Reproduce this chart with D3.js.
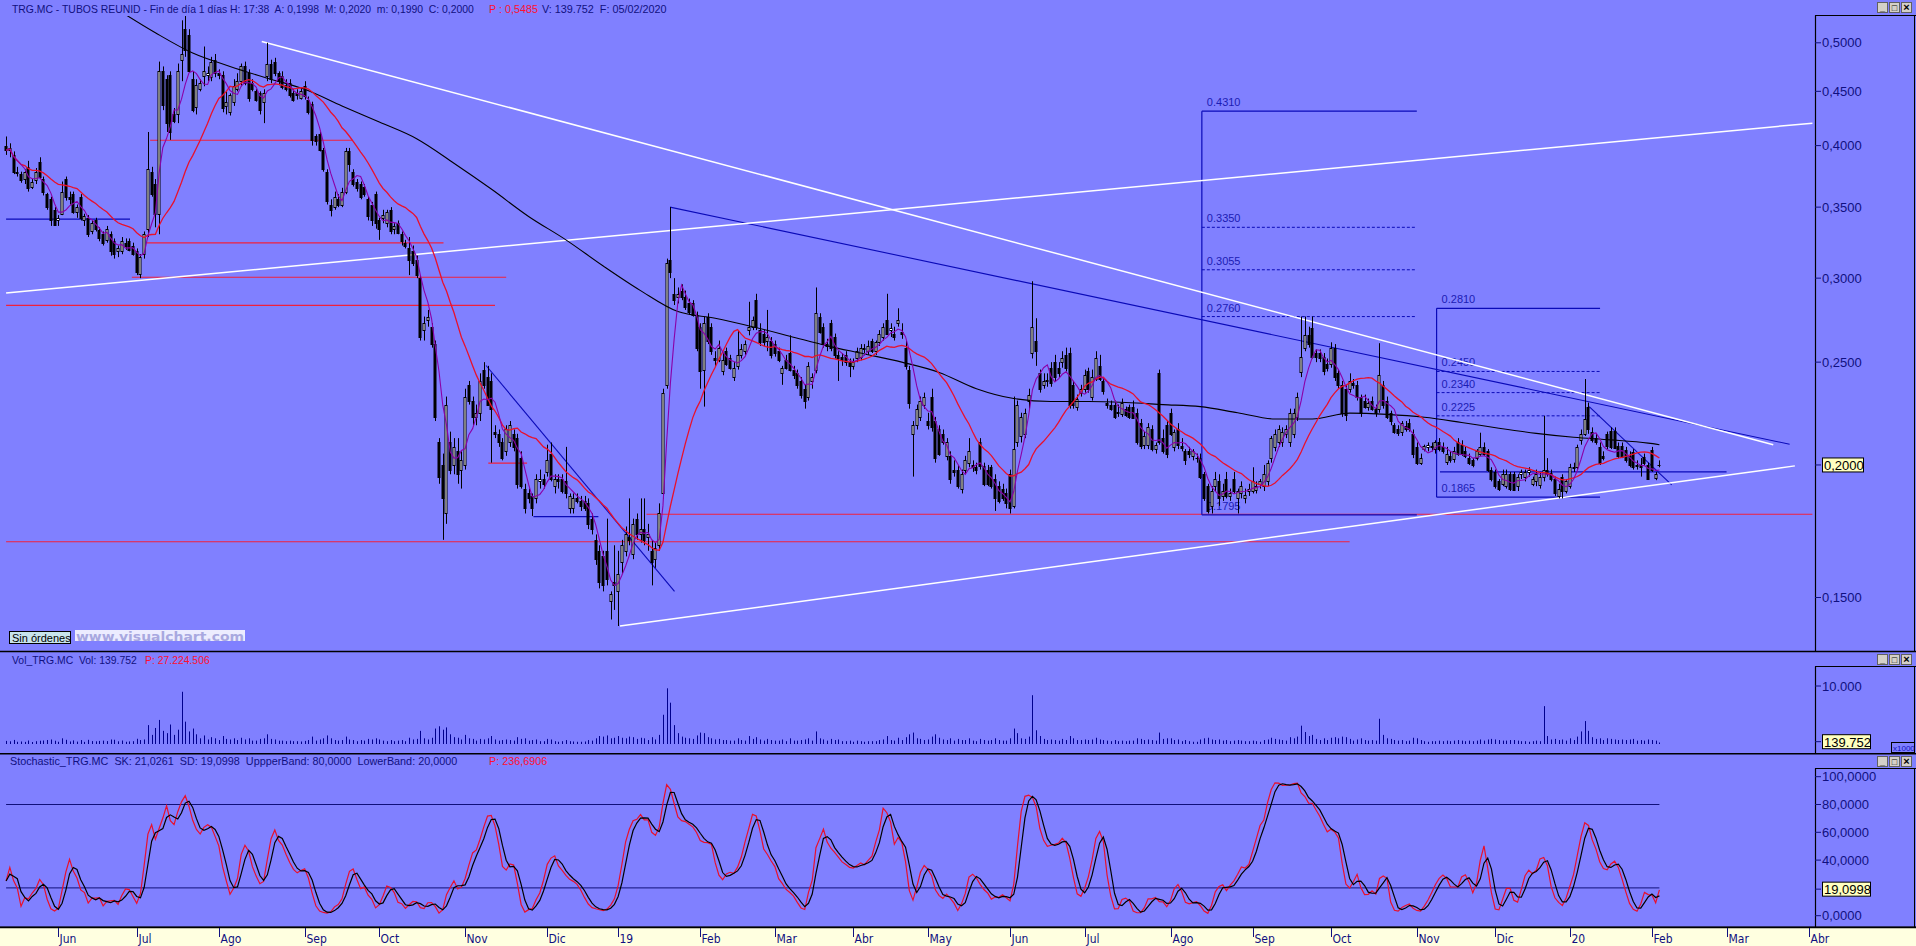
<!DOCTYPE html>
<html><head><meta charset="utf-8">
<script src="https://cdn.jsdelivr.net/npm/d3@7"></script>
<style>
html,body{margin:0;padding:0;background:#8080ff;overflow:hidden}
svg{display:block}
</style></head><body>
<svg id="c" width="1916" height="946"></svg>
<script>
// ---------------- DATA (prices in EUR, volume in thousands) ----------------
const opens = [
.400,.396,.392,.378,.376,.372,.382,.366,.371,.386,
.372,.360,.356,.348,.340,.345,.372,.358,.360,.346,
.358,.340,.342,.332,.340,.333,.330,.326,.330,.325,
.318,.318,.324,.325,.322,.318,.303,.316,.334,.378,
.368,.345,.470,.462,.466,.428,.428,.482,.515,.508,
.462,.435,.452,.465,.466,.464,.482,.468,.466,.436,
.430,.440,.452,.460,.475,.468,.458,.450,.448,.440,
.465,.478,.480,.468,.465,.456,.458,.448,.448,.444,
.455,.442,.438,.408,.410,.396,.378,.352,.350,.356,
.352,.362,.395,.378,.370,.368,.366,.356,.352,.360,
.340,.342,.338,.348,.334,.338,.330,.324,.320,.318,
.312,.300,.268,.274,.270,.260,.210,.200,.180,.210,
.200,.206,.198,.200,.238,.230,.222,.224,.246,.242,
.240,.215,.214,.210,.206,.210,.214,.212,.203,.190,
.188,.187,.186,.193,.194,.197,.205,.191,.194,.194,
.193,.182,.182,.186,.185,.185,.184,.178,.170,.166,
.164,.166,.149,.155,.152,.162,.166,.171,.165,.178,
.172,.174,.171,.166,.163,.168,.188,.238,.312,.290,
.288,.292,.288,.284,.284,.277,.270,.246,.276,.270,
.252,.251,.245,.256,.252,.242,.248,.254,.256,.268,
.270,.286,.268,.266,.262,.262,.260,.256,.244,.251,
.255,.246,.244,.240,.236,.232,.240,.246,.276,.270,
.260,.272,.264,.254,.253,.254,.250,.248,.252,.253,
.258,.256,.262,.256,.261,.264,.274,.268,.266,.272,
.267,.258,.246,.214,.218,.222,.228,.220,.232,.220,
.216,.214,.204,.204,.198,.198,.190,.198,.201,.200,
.199,.210,.1995,.198,.199,.194,.191,.190,.188,.196,
.183,.210,.213,.214,.230,.255,.262,.244,.238,.240,
.247,.250,.247,.250,.254,.255,.238,.227,.234,.236,
.245,.232,.241,.248,.240,.229,.228,.228,.224,.2235,
.226,.227,.227,.224,.219,.209,.209,.216,.207,.244,
.212,.218,.224,.208,.216,.2085,.206,.206,.204,.203,
.203,.196,.191,.183,.191,.193,.187,.194,.187,.194,
.186,.188,.186,.189,.189,.1895,.192,.191,.193,.203,
.208,.210,.210,.214,.210,.214,.222,.2445,.258,.265,
.269,.255,.255,.253,.249,.249,.258,.244,.238,.236,
.236,.239,.238,.232,.230,.227,.230,.226,.226,.238,
.230,.224,.218,.216,.215,.2175,.219,.214,.208,.201,
.207,.208,.208,.207,.210,.208,.2015,.204,.2025,.210,
.209,.206,.203,.202,.203,.205,.208,.206,.198,.197,
.193,.192,.191,.196,.196,.191,.196,.195,.197,.192,
.193,.1915,.195,.198,.1965,.194,.187,.195,.189,.191,
.199,.199,.211,.214,.227,.215,.212,.208,.204,.214,
.2155,.2155,.2085,.2085,.2065,.204,.2055,.200,.200,.2035,
.200,.2065,.1945,.1998];
const highs = [
.408,.402,.395,.382,.378,.380,.387,.372,.381,.390,
.374,.361,.358,.350,.344,.370,.374,.362,.362,.352,
.360,.345,.344,.340,.342,.335,.332,.336,.332,.327,
.322,.328,.327,.327,.324,.320,.316,.332,.412,.382,
.372,.480,.475,.466,.470,.434,.478,.525,.537,.515,
.470,.462,.462,.496,.475,.485,.488,.472,.470,.450,
.448,.462,.468,.478,.480,.472,.462,.452,.450,.452,
.500,.482,.484,.470,.470,.462,.462,.452,.452,.454,
.460,.445,.440,.410,.412,.398,.380,.356,.362,.360,
.365,.398,.398,.380,.372,.370,.368,.358,.354,.362,
.342,.348,.348,.350,.338,.340,.332,.326,.328,.322,
.315,.302,.276,.280,.272,.262,.212,.205,.232,.215,
.212,.212,.206,.236,.240,.232,.228,.244,.250,.248,
.244,.218,.216,.212,.218,.220,.216,.214,.206,.192,
.190,.188,.196,.198,.196,.209,.210,.196,.196,.196,
.208,.188,.188,.188,.187,.187,.186,.180,.172,.168,
.166,.178,.152,.168,.166,.170,.175,.186,.178,.180,
.186,.186,.176,.170,.169,.184,.236,.313,.350,.300,
.294,.296,.292,.287,.286,.279,.272,.276,.278,.272,
.256,.262,.255,.258,.254,.250,.268,.260,.262,.285,
.276,.290,.272,.268,.280,.264,.262,.258,.248,.254,
.265,.248,.246,.242,.238,.250,.244,.294,.278,.272,
.263,.274,.266,.256,.255,.256,.252,.252,.258,.260,
.260,.262,.263,.262,.268,.272,.290,.272,.270,.281,
.272,.262,.248,.220,.228,.232,.234,.224,.236,.222,
.218,.216,.212,.206,.202,.200,.198,.204,.212,.202,
.201,.212,.201,.200,.200,.196,.193,.192,.190,.198,
.232,.230,.224,.226,.236,.298,.275,.246,.244,.244,
.250,.254,.250,.256,.258,.258,.240,.233,.238,.246,
.247,.246,.256,.254,.242,.231,.230,.230,.228,.231,
.227,.228,.230,.226,.221,.215,.219,.218,.210,.246,
.216,.220,.226,.216,.219,.212,.207,.208,.207,.205,
.205,.197,.192,.191,.197,.196,.192,.197,.190,.197,
.190,.193,.190,.192,.199,.193,.194,.200,.202,.213,
.216,.218,.217,.218,.226,.226,.234,.276,.276,.270,
.276,.257,.257,.255,.252,.261,.260,.246,.240,.238,
.244,.241,.240,.233,.233,.231,.232,.228,.2605,.240,
.232,.225,.219,.218,.220,.220,.221,.216,.210,.205,
.209,.210,.210,.211,.212,.210,.208,.206,.208,.212,
.211,.208,.205,.203,.207,.2145,.210,.207,.199,.198,
.194,.198,.198,.197,.197,.196,.198,.198,.199,.195,
.198,.197,.2225,.203,.198,.195,.192,.196,.194,.2005,
.201,.209,.216,.241,.229,.217,.214,.210,.206,.215,
.217,.217,.210,.210,.208,.206,.207,.202,.203,.205,
.201,.208,.197,.202];
const lows = [
.392,.390,.376,.374,.369,.368,.362,.364,.368,.372,
.359,.348,.336,.336,.336,.344,.355,.352,.345,.342,
.340,.336,.328,.330,.332,.325,.322,.324,.315,.313,
.314,.316,.319,.318,.315,.302,.300,.313,.328,.358,
.335,.330,.432,.412,.405,.420,.420,.460,.485,.470,
.430,.428,.450,.455,.460,.460,.464,.462,.430,.428,
.427,.436,.450,.455,.456,.440,.450,.440,.428,.420,
.460,.458,.465,.456,.452,.450,.444,.440,.442,.442,
.442,.428,.400,.400,.395,.378,.352,.343,.348,.350,
.350,.360,.378,.366,.362,.356,.358,.340,.336,.334,
.326,.338,.335,.330,.330,.330,.322,.320,.302,.308,
.300,.262,.262,.270,.258,.220,.192,.170,.176,.196,
.196,.192,.190,.198,.228,.218,.218,.220,.236,.228,
.201,.212,.208,.202,.204,.208,.206,.190,.190,.180,
.184,.179,.184,.190,.190,.195,.193,.188,.190,.188,
.186,.180,.180,.184,.181,.181,.174,.172,.161,.153,
.152,.154,.143,.146,.141,.158,.164,.168,.163,.170,
.169,.168,.166,.154,.160,.166,.186,.236,.300,.283,
.284,.286,.280,.277,.276,.256,.236,.227,.260,.254,
.248,.250,.243,.248,.246,.240,.246,.252,.254,.265,
.268,.268,.259,.259,.256,.252,.253,.250,.238,.246,
.245,.241,.236,.231,.226,.230,.236,.244,.266,.258,
.256,.256,.252,.240,.248,.248,.242,.246,.250,.251,
.255,.254,.255,.254,.259,.262,.266,.264,.262,.270,
.263,.246,.226,.195,.216,.220,.226,.216,.215,.201,
.204,.209,.202,.192,.195,.190,.188,.196,.199,.197,
.196,.198,.191,.191,.190,.181,.184,.185,.182,.180,
.182,.208,.210,.212,.226,.252,.248,.234,.236,.237,
.237,.240,.242,.247,.245,.226,.226,.225,.232,.234,
.234,.230,.240,.240,.233,.226,.225,.221,.222,.222,
.222,.221,.221,.209,.207,.207,.207,.206,.205,.209,
.205,.203,.213,.206,.207,.206,.200,.203,.202,.201,
.194,.185,.180,.180,.189,.183,.185,.186,.185,.188,
.180,.186,.184,.187,.188,.188,.190,.189,.191,.201,
.206,.208,.208,.212,.208,.212,.220,.242,.256,.258,
.252,.250,.250,.243,.245,.247,.240,.236,.222,.220,
.234,.236,.230,.222,.226,.225,.225,.222,.224,.226,
.221,.218,.214,.213,.213,.215,.215,.203,.200,.200,
.206,.206,.206,.205,.206,.205,.200,.201,.201,.204,
.204,.203,.200,.199,.202,.204,.204,.197,.193,.190,
.189,.191,.190,.189,.189,.189,.194,.193,.195,.191,
.191,.190,.193,.195,.193,.187,.186,.186,.188,.190,
.197,.198,.209,.213,.214,.210,.209,.200,.202,.207,
.207,.207,.203,.203,.201,.199,.198,.198,.195,.200,
.194,.197,.1935,.199];
const closes = [
.396,.398,.378,.377,.371,.378,.365,.370,.378,.374,
.362,.350,.340,.337,.342,.362,.358,.356,.346,.350,
.342,.343,.330,.338,.334,.327,.324,.334,.318,.316,
.320,.325,.322,.319,.316,.304,.314,.330,.380,.360,
.345,.470,.437,.420,.412,.422,.470,.488,.492,.470,
.432,.456,.458,.470,.468,.480,.468,.466,.434,.440,
.446,.455,.460,.475,.458,.444,.452,.442,.432,.448,
.478,.462,.468,.460,.454,.452,.446,.442,.446,.450,
.445,.430,.405,.404,.396,.380,.355,.348,.358,.352,
.362,.395,.384,.368,.365,.358,.360,.343,.340,.338,
.334,.344,.346,.332,.336,.331,.325,.322,.312,.310,
.302,.264,.272,.276,.260,.222,.195,.186,.228,.198,
.208,.196,.202,.232,.230,.222,.224,.240,.238,.228,
.226,.214,.210,.203,.216,.218,.208,.192,.191,.182,
.186,.182,.194,.194,.192,.202,.194,.194,.193,.189,
.188,.187,.186,.185,.183,.182,.176,.174,.163,.155,
.154,.156,.151,.154,.158,.168,.172,.170,.176,.172,
.174,.170,.172,.162,.167,.180,.234,.310,.304,.286,
.290,.288,.282,.279,.277,.258,.245,.272,.262,.256,
.251,.258,.251,.249,.247,.247,.254,.257,.260,.270,
.274,.270,.261,.261,.264,.254,.255,.251,.247,.247,
.246,.243,.238,.233,.230,.248,.242,.278,.267,.260,
.259,.258,.254,.252,.251,.250,.248,.250,.256,.258,
.257,.259,.256,.261,.266,.270,.266,.269,.264,.274,
.266,.248,.229,.218,.226,.230,.232,.218,.217,.203,
.205,.210,.210,.194,.197,.191,.196,.202,.206,.199,
.198,.1995,.192,.192,.191,.186,.185,.186,.184,.182,
.207,.228,.222,.224,.233,.270,.256,.236,.240,.2405,
.239,.242,.244,.252,.247,.228,.228,.231,.236,.243,
.236,.242,.252,.241,.235,.228,.226,.222,.2245,.229,
.223,.222,.2215,.210,.2085,.213,.217,.207,.209,.210,
.206,.205,.214,.215,.209,.2075,.202,.205,.206,.203,
.195,.186,.181,.189,.194,.186,.189,.187,.188,.189,
.189,.191,.1875,.190,.193,.191,.193,.196,.201,.212,
.214,.216,.215,.216,.224,.224,.232,.253,.265,.260,
.253,.253,.252,.245,.247,.258,.242,.238,.224,.223,
.240,.238,.232,.224,.227,.229,.226,.224,.243,.228,
.222,.220,.215,.2145,.219,.216,.216,.205,.201,.203,
.2085,.209,.2085,.210,.207,.206,.205,.202,.206,.205,
.205,.204,.201,.200,.206,.208,.205,.198,.194,.191,
.190,.196,.196,.190,.1895,.195,.197,.197,.198,.194,
.196,.195,.198,.196,.194,.188,.190,.189,.193,.199,
.1985,.208,.214,.221,.216,.211,.210,.201,.203,.2085,
.208,.2075,.204,.2035,.202,.200,.199,.1995,.199,.201,
.194,.198,.196,.200];
const volumes = [
450,380,620,300,350,280,520,260,400,480,
520,610,700,480,300,900,640,350,540,330,
600,280,640,420,380,450,500,420,700,650,
380,520,300,360,400,820,600,700,3200,1500,
2700,4100,2200,1800,3300,1500,2400,9000,3800,2100,
2600,1600,900,1400,700,1100,900,600,1300,800,
700,900,600,1000,700,900,500,500,800,900,
1600,800,700,500,500,400,500,400,400,350,
450,600,1200,500,700,900,1400,900,600,500,
600,1200,700,600,400,600,500,800,700,900,
700,500,400,600,400,500,600,400,1000,700,
800,2200,900,700,1000,2600,3000,2400,2800,1600,
1100,1000,700,1500,900,800,500,800,700,900,
1300,700,500,600,700,600,500,1100,800,900,
500,600,700,400,400,800,700,400,300,400,
600,400,350,300,300,350,600,500,900,1300,
1200,1400,900,1000,1300,1000,900,1200,1100,800,
1000,900,600,1100,700,1500,5000,9600,7100,3200,
1800,1200,1000,900,800,1400,1900,1800,1100,900,
700,800,600,600,500,500,900,600,500,1300,
800,1100,700,500,800,600,500,500,700,400,
900,500,500,600,700,900,500,2100,900,700,
500,800,600,700,400,400,500,300,500,400,
300,400,400,400,600,700,1300,600,500,1000,
600,1100,1600,1900,900,800,600,700,1200,1600,
1000,700,600,900,500,800,600,600,900,500,
400,800,600,500,600,900,600,500,500,900,
2600,1800,900,800,1200,8400,2300,1300,800,600,
700,600,500,800,600,1300,900,600,600,700,
600,700,1000,700,600,500,400,600,400,500,
400,500,500,900,800,600,700,600,500,1900,
800,900,900,600,700,400,600,400,300,300,
700,900,1000,700,600,700,500,600,400,500,
600,500,400,400,500,400,300,600,700,1000,
800,700,600,500,1100,900,1200,3100,2000,1300,
1500,800,600,900,600,1000,1100,900,1200,1100,
800,500,700,900,600,500,600,500,4300,1500,
900,800,600,500,600,400,500,1000,900,600,
400,300,400,400,500,400,500,400,500,600,
500,400,500,400,500,700,500,700,800,700,
600,500,500,600,600,500,400,400,300,400,
500,400,6500,1300,700,800,600,700,500,900,
600,1200,2100,3900,2200,1100,800,900,600,900,
800,700,600,700,600,700,800,500,600,500,
700,600,500,140];
// long-term moving average (black), read every 10th bar starting at bar 30
const longMA = [.537,.511,.489,.475,.463,.452,.436,.421,.406,.385,
  .364,.343,.326,.308,.292,.279,.275,.270,.2645,.259,
  .2545,.250,.2445,.236,.231,.2295,.2295,.229,.228,.227,
  .224,.221,.221,.2238,.2232,.2218,.2193,.2166,.2142,.2124,
  .2112,.2097];
const longMAStart = 30, longMAStep = 10, longMALast = 0.209;
const monthNames = ["Ene","Feb","Mar","Abr","May","Jun","Jul","Ago","Sep","Oct","Nov","Dic"];
const priceTicks = [0.15,0.25,0.30,0.35,0.40,0.45,0.50];
const stochTicks = [0,40,60,80,100];
const volTicks = [10000];
const holidays = ["2018-12-25","2018-12-26","2019-01-01","2019-04-19","2019-04-22","2019-05-01","2019-12-25","2019-12-26","2020-01-01"];
// drawn objects (bar index, price)
const whiteLines = [
  {i1:0, p1:0.2905, i2:484, p2:0.420},
  {i1:68.5, p1:0.5015, i2:473.5, p2:0.209},
  {i1:164.5, p1:0.141, i2:479.3, p2:0.1996}];
const blueLines = [
  {i1:177.9, p1:0.350, i2:477.9, p2:0.2092},
  {i1:128.6, p1:0.2482, i2:179.1, p2:0.152},
  {i1:424.2, p1:0.227, i2:446.3, p2:0.1915},
  {i1:0, p1:0.341, i2:33.2, p2:0.341},
  {i1:141.3, p1:0.1788, i2:158.7, p2:0.1788},
  {i1:384.2, p1:0.197, i2:461, p2:0.197}];
const redLevels = [
  {i1:38.6, i2:92.9, p:0.4047},
  {i1:37.7, i2:117.2, p:0.3239},
  {i1:33.7, i2:134, p:0.3006},
  {i1:0, i2:131, p:0.2828},
  {i1:129.2, i2:139.6, p:0.2008},
  {i1:0, i2:360, p:0.1693},
  {i1:171.6, i2:484, p:0.1797}];
const fibBoxes = [
  {i1:320.4, i2:378, hi:0.4310, lo:0.1795, levels:[0.3350,0.3055,0.2760]},
  {i1:383.3, i2:427.1, hi:0.2810, lo:0.1865, levels:[0.2450,0.2340,0.2225]}];
const lastPrice = 0.2000, lastVolK = 139.752, lastSD = 19.0998;

// ---------------- LAYOUT ----------------
const W=1916, H=946, AX=1815;
const BG="#8080ff", NAVY="#101080";
const svg=d3.select("#c");
const x=d3.scaleLinear().domain([0,443]).range([6.1,1659.4]);
const y=d3.scaleLog().domain([0.15,0.5]).range([597.5,42.8]);
const yv=d3.scaleLinear().domain([0,10000]).range([743.5,686]);
const ys=d3.scaleLinear().domain([0,100]).range([915.7,776.7]);
const NARROW="'Liberation Sans Narrow','Arial Narrow','DejaVu Sans Condensed',sans-serif";
const SANS="'Liberation Sans',Arial,sans-serif";

svg.append("rect").attr("width",W).attr("height",H).attr("fill",BG);

// trading dates
const hol=new Set(holidays);
const dates=[]; {let d=new Date(Date.UTC(2018,4,14)); while(dates.length<500){const wd=d.getUTCDay(); const s=d.toISOString().slice(0,10); if(wd>0&&wd<6&&!hol.has(s)) dates.push(new Date(d)); d.setUTCDate(d.getUTCDate()+1);}}

const defs=svg.append("defs");
defs.append("clipPath").attr("id","cp").append("rect").attr("x",0).attr("y",16).attr("width",AX).attr("height",651-16);
const gP=svg.append("g").attr("clip-path","url(#cp)");

// red levels
gP.selectAll(".rl").data(redLevels).join("line")
  .attr("x1",d=>x(d.i1)).attr("x2",d=>x(d.i2)).attr("y1",d=>y(d.p)).attr("y2",d=>y(d.p))
  .attr("stroke","#f0203c").attr("stroke-width",1.1);
// fib boxes
fibBoxes.forEach(b=>{
  const g=gP.append("g");
  const xa=x(b.i1), xb=x(b.i2);
  g.append("line").attr("x1",xa).attr("x2",xa).attr("y1",y(b.hi)).attr("y2",y(b.lo)).attr("stroke","#0a0ab8").attr("stroke-width",1.2);
  [b.hi,b.lo].forEach(v=>g.append("line").attr("x1",xa).attr("x2",xb).attr("y1",y(v)).attr("y2",y(v)).attr("stroke","#0a0ab8").attr("stroke-width",1.2));
  b.levels.forEach(v=>g.append("line").attr("x1",xa).attr("x2",xb).attr("y1",y(v)).attr("y2",y(v)).attr("stroke","#0a0ab8").attr("stroke-width",1).attr("stroke-dasharray","3,2"));
  [b.hi,...b.levels,b.lo].forEach(v=>g.append("text").attr("x",xa+5).attr("y",y(v)-5).attr("font-family",SANS).attr("font-size",11).attr("fill","#1c1cb4").text(v.toFixed(4)));
});
// blue lines
gP.selectAll(".bl").data(blueLines).join("line")
  .attr("x1",d=>x(d.i1)).attr("x2",d=>x(d.i2)).attr("y1",d=>y(d.p1)).attr("y2",d=>y(d.p2))
  .attr("stroke","#0a0ab8").attr("stroke-width",1.1);
// white lines
gP.selectAll(".wl").data(whiteLines).join("line")
  .attr("x1",d=>x(d.i1)).attr("x2",d=>x(d.i2)).attr("y1",d=>y(d.p1)).attr("y2",d=>y(d.p2))
  .attr("stroke","#ffffff").attr("stroke-width",1.5);

// candles
const idx=d3.range(closes.length);
const cg=gP.append("g");
idx.forEach(i=>{
  const o=opens[i],c=closes[i],h=Math.max(highs[i],o,c),l=Math.min(lows[i],o,c);
  const cx=Math.round(x(i))+0.5;
  cg.append("line").attr("x1",cx).attr("x2",cx).attr("y1",y(h)).attr("y2",y(l)).attr("stroke","#000").attr("stroke-width",1);
  const yt=Math.round(y(Math.max(o,c)))+0.5, yb=Math.round(y(Math.min(o,c)))+0.5;
  cg.append("rect").attr("x",cx-1.5).attr("y",yt).attr("width",2).attr("height",Math.max(0.01,yb-yt))
    .attr("fill",c>=o?"#fff":"#000").attr("stroke","#000").attr("stroke-width",1);
});

// moving averages
const sma=(arr,n)=>arr.map((_,i)=>d3.mean(arr.slice(Math.max(0,i-n+1),i+1)));
const ma20=sma(closes,20), ma5=sma(closes,5);
const lineP=d3.line().x(d=>x(d[0])).y(d=>y(d[1]));
const longPts=longMA.map((v,k)=>[longMAStart+k*longMAStep,v]); longPts.push([closes.length-1,longMALast]);
gP.append("path").attr("d",d3.line().x(d=>x(d[0])).y(d=>y(d[1])).curve(d3.curveMonotoneX)(longPts)).attr("fill","none").attr("stroke","#000").attr("stroke-width",1.1);
gP.append("path").attr("d",lineP(idx.map(i=>[i,ma20[i]]))).attr("fill","none").attr("stroke","#e8102c").attr("stroke-width",1.3);
gP.append("path").attr("d",lineP(idx.map(i=>[i,ma5[i]]))).attr("fill","none").attr("stroke","#8a00a8").attr("stroke-width",1.1);

// volume
const gV=svg.append("g");
idx.forEach(i=>{const cx=Math.round(x(i))+0.5; gV.append("line").attr("x1",cx).attr("x2",cx).attr("y1",yv(0)+0.5).attr("y2",Math.min(yv(volumes[i]),yv(0)-1)).attr("stroke","#00008c").attr("stroke-width",1);});

// stochastic
const Kp=14;
const fastK=closes.map((c,i)=>{const a=Math.max(0,i-Kp+1);const hh=d3.max(highs.slice(a,i+1)),ll=d3.min(lows.slice(a,i+1));return hh>ll?100*(c-ll)/(hh-ll):50;});
const SK=sma(fastK,3), SD=sma(SK,3);
const gS=svg.append("g");
[80,20].forEach(v=>gS.append("line").attr("x1",x(0)).attr("x2",x(443)).attr("y1",ys(v)).attr("y2",ys(v)).attr("stroke","#10107a").attr("stroke-width",1));
const lineS=d3.line().x(d=>x(d[0])).y(d=>ys(d[1]));
gS.append("path").attr("d",lineS(idx.map(i=>[i,SK[i]]))).attr("fill","none").attr("stroke","#e8102c").attr("stroke-width",1.2);
gS.append("path").attr("d",lineS(idx.map(i=>[i,SD[i]]))).attr("fill","none").attr("stroke","#000").attr("stroke-width",1.2);

// separators & axis boxes
const sep=(yy)=>svg.append("line").attr("x1",0).attr("x2",W).attr("y1",yy).attr("y2",yy).attr("stroke","#000").attr("stroke-width",1.5);
svg.append("line").attr("x1",AX).attr("x2",W).attr("y1",15.5).attr("y2",15.5).attr("stroke","#000");
svg.append("line").attr("x1",AX).attr("x2",W).attr("y1",666.5).attr("y2",666.5).attr("stroke","#000");
svg.append("line").attr("x1",AX).attr("x2",W).attr("y1",768.5).attr("y2",768.5).attr("stroke","#000");
[[15.5,651.5],[666.5,753.5],[768.5,927]].forEach(([a,b])=>{
  svg.append("line").attr("x1",AX+0.5).attr("x2",AX+0.5).attr("y1",a).attr("y2",b).attr("stroke","#000").attr("stroke-width",1.2);
  svg.append("line").attr("x1",W-1.5).attr("x2",W-1.5).attr("y1",a).attr("y2",b).attr("stroke","#000").attr("stroke-width",1);
});
sep(651.5); sep(753.8); sep(927.2);

// price axis
const fmt4=v=>d3.format(".4f")(v).replace(".",",");
priceTicks.forEach(v=>{
  svg.append("line").attr("x1",AX).attr("x2",AX+6).attr("y1",y(v)).attr("y2",y(v)).attr("stroke",NAVY);
  svg.append("text").attr("x",AX+7).attr("y",y(v)+4.5).attr("font-family",SANS).attr("font-size",13).attr("fill",NAVY).text(fmt4(v));
});
function valBox(yy,txt,w){
  svg.append("line").attr("x1",AX).attr("x2",AX+6).attr("y1",yy).attr("y2",yy).attr("stroke",NAVY);
  svg.append("rect").attr("x",AX+7.5).attr("y",yy-7).attr("width",w).attr("height",14).attr("fill","#ffffc0").attr("stroke","#000");
  svg.append("text").attr("x",AX+9).attr("y",yy+5).attr("font-family",SANS).attr("font-size",13).attr("fill","#000").text(txt);
}
valBox(y(lastPrice),fmt4(lastPrice),41);
// volume axis
volTicks.forEach(v=>{
  svg.append("line").attr("x1",AX).attr("x2",AX+6).attr("y1",yv(v)).attr("y2",yv(v)).attr("stroke",NAVY);
  svg.append("text").attr("x",AX+7).attr("y",yv(v)+4.5).attr("font-family",SANS).attr("font-size",13).attr("fill",NAVY).text(d3.format(",")(v).replace(/,/g,"."));
});
valBox(yv(lastVolK)-1,"139.752",48);
svg.append("rect").attr("x",1891.5).attr("y",742.5).attr("width",23).attr("height",10).attr("fill","none").attr("stroke","#000");
svg.append("text").attr("x",1893).attr("y",750.5).attr("font-family",SANS).attr("font-size",8).attr("fill","#1010c0").text("x1000");
// stochastic axis
stochTicks.forEach(v=>{
  svg.append("line").attr("x1",AX).attr("x2",AX+6).attr("y1",ys(v)).attr("y2",ys(v)).attr("stroke",NAVY);
  svg.append("text").attr("x",AX+7).attr("y",ys(v)+4.5).attr("font-family",SANS).attr("font-size",13).attr("fill",NAVY).text(fmt4(v));
});
valBox(ys(lastSD),fmt4(lastSD),48);

// x axis strip
svg.append("rect").attr("x",0).attr("y",928).attr("width",W).attr("height",H-928).attr("fill","#ffffe0");
svg.append("line").attr("x1",0).attr("x2",W).attr("y1",927.5).attr("y2",927.5).attr("stroke","#000").attr("stroke-width",1.5);
for(let i=1;i<dates.length;i++){
  const d=dates[i],p=dates[i-1]; if(d.getUTCMonth()===p.getUTCMonth()) continue;
  const xx=Math.round(x(i))+0.5; if(xx>AX+2) break;
  const m=d.getUTCMonth(); const lab=m===0?String(d.getUTCFullYear()%100):monthNames[m];
  svg.append("line").attr("x1",xx).attr("x2",xx).attr("y1",928).attr("y2",937).attr("stroke",NAVY);
  svg.append("text").attr("x",xx+1).attr("y",943).attr("font-family",NARROW).attr("font-size",12).attr("fill",NAVY).text(lab);
}

// headers (separate text pieces, natural widths; \u00a0 keeps the wider gaps)
function piece(t,x0,yy,col,fs){svg.append("text").attr("x",x0).attr("y",yy).attr("font-family",SANS).attr("font-size",fs).attr("fill",col).text(t);}
const G="\u00a0 ";
piece("TRG.MC - TUBOS REUNID - Fin de día 1 días H: 17:38"+G+"A: 0,1998"+G+"M: 0,2020"+G+"m: 0,1990"+G+"C: 0,2000",12,13,NAVY,10.4);
piece("P : 0,5485",489,13,"#ff1030",10.8);
piece("V: 139.752"+G+"F: 05/02/2020",542,13,NAVY,10.8);
piece("Vol_TRG.MC"+G+"Vol: 139.752",12,664,NAVY,10.4);
piece("P: 27.224.506",145,664,"#ff1030",10.4);
piece("Stochastic_TRG.MC"+G+"SK: 21,0261"+G+"SD: 19,0998"+G+"UppperBand: 80,0000"+G+"LowerBand: 20,0000",10,765,NAVY,10.8);
piece("P: 236,6906",489,765,"#ff1030",10.8);

// window buttons
function btns(yy){["_","□","×"].forEach((g,k)=>{const bx=1877+k*12;svg.append("rect").attr("x",bx+0.5).attr("y",yy+0.5).attr("width",10).attr("height",10).attr("fill","#d4d0c8").attr("stroke","#606060");svg.append("text").attr("x",bx+5.5).attr("y",yy+9).attr("text-anchor","middle").attr("font-family",SANS).attr("font-size",g==="×"?11:9).attr("font-weight","bold").attr("fill","#000").text(g);});}
btns(2); btns(654); btns(756);

// Sin órdenes button + watermark
svg.append("rect").attr("x",9.5).attr("y",631.5).attr("width",61).attr("height",12).attr("fill","#c8e4ec").attr("stroke","#000");
svg.append("text").attr("x",12).attr("y",641.5).attr("font-family",SANS).attr("font-size",11).attr("fill","#000").text("Sin órdenes");
svg.append("rect").attr("x",75).attr("y",630).attr("width",170).attr("height",11).attr("fill","#ffffff").attr("opacity",0.85);
svg.append("text").attr("x",76).attr("y",640.5).attr("font-family","'DejaVu Sans',Verdana,sans-serif").attr("font-weight","bold").attr("font-size",13).attr("fill","#a8a8e0").attr("textLength",168).attr("lengthAdjust","spacingAndGlyphs").text("www.visualchart.com");
</script>
</body></html>
